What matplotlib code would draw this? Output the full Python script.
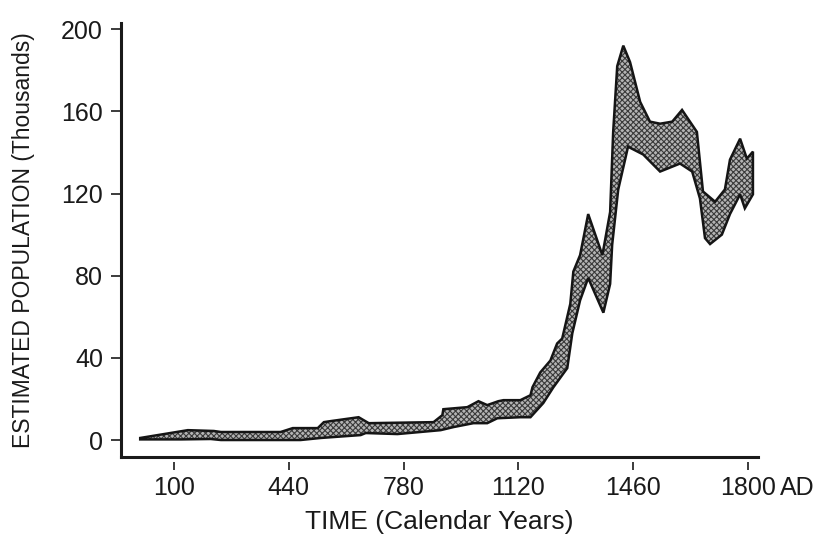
import numpy as np
import matplotlib
matplotlib.use('Agg')
import matplotlib.pyplot as plt

plt.rcParams['font.family'] = ['Liberation Sans', 'DejaVu Sans']
plt.rcParams['hatch.linewidth'] = 0.8

# upper edge of the population band (year, thousands)
upper_year = [0, 141, 218, 239, 416, 452, 526, 544, 564, 647, 677, 869, 895, 898,
              969, 1002, 1028, 1061, 1076, 1126, 1156, 1162, 1185, 1215, 1235, 1250,
              1274, 1283, 1303, 1327, 1369, 1392, 1401, 1413, 1431, 1451, 1481, 1510,
              1540, 1576, 1605, 1649, 1667, 1703, 1732, 1747, 1777, 1797, 1815]
upper_pop = [1.0, 4.8, 4.4, 3.9, 3.9, 5.8, 5.8, 8.7, 9.2, 11.1, 8.2, 8.7, 12.1, 15,
             16, 18.9, 17, 18.9, 19.4, 19.4, 21.8, 25.7, 32.9, 38.7, 47, 49.4,
             66.3, 82, 90, 110, 90, 111, 150, 182, 192, 184, 164.6, 155,
             154, 155, 160.7, 150, 121, 116, 122, 136.5, 146.7, 137, 140.4]

# lower edge of the band
lower_year = [0, 121, 209, 239, 475, 535, 653, 668, 762, 890, 928, 987, 1028, 1058,
              1126, 1156, 1194, 1224, 1265, 1280, 1303, 1327, 1372, 1392, 1398, 1416,
              1437, 1445, 1490, 1540, 1599, 1635, 1658, 1673, 1688, 1723, 1747, 1777,
              1791, 1815]
lower_pop = [0.3, 0.3, 0.5, 0, 0, 1, 2.4, 3.4, 2.9, 4.8, 6.3, 8.2, 8.2, 10.6,
             11.1, 11.1, 18, 25.7, 35, 52, 68, 78.9, 62, 76, 95, 122,
             137, 142.8, 139, 130.7, 134.6, 130.7, 117.6, 98.3, 95.4, 100, 110, 119.6,
             112.8, 119.6]

xticks = [100, 440, 780, 1120, 1460, 1800]
yticks = [0, 40, 80, 120, 160, 200]

fig = plt.figure(figsize=(8.14, 5.36), dpi=100)
ax = fig.add_axes([0.1486, 0.1465, 0.7826, 0.8105])

# band polygon: upper edge left->right, lower edge right->left
poly_x = np.concatenate([upper_year, lower_year[::-1]])
poly_y = np.concatenate([upper_pop, lower_pop[::-1]])
ax.fill(poly_x, poly_y, facecolor='#b4b4b4', edgecolor='#3a3a3a', hatch='xxxxxx',
        linewidth=0, zorder=2)
ax.fill(poly_x, poly_y, facecolor='none', edgecolor='#151515', linewidth=1.8,
        joinstyle='miter', zorder=3)

ax.set_xlim(-57, 1830)
ax.set_ylim(-8.5, 203)

for s in ['top', 'right']:
    ax.spines[s].set_visible(False)
for s in ['left', 'bottom']:
    ax.spines[s].set_linewidth(2.2)
    ax.spines[s].set_color('#1a1a1a')

ax.set_yticks(yticks)
ax.tick_params(axis='y', direction='out', length=7, width=1.2, pad=6,
               labelsize=18, colors='#1a1a1a')
ax.set_xticks([])

# x ticks sit slightly below the spine
secax = ax.secondary_xaxis(-0.011)
secax.spines['bottom'].set_visible(False)
secax.set_xticks(xticks)
secax.tick_params(axis='x', direction='out', length=6, width=1.2, pad=4,
                  labelsize=18, colors='#1a1a1a')
secax.set_xlabel('TIME (Calendar Years)', fontsize=19, labelpad=7, color='#1a1a1a')

ax.annotate('AD', xy=(1800, 0), xycoords=('data', 'axes fraction'),
            xytext=(32, -18.5), textcoords='offset pixels', ha='left', va='top',
            fontsize=18, color='#1a1a1a')

ax.set_ylabel('ESTIMATED POPULATION (Thousands)', fontsize=16.5, labelpad=19,
              color='#1a1a1a')

fig.savefig('out.png', dpi=100)
